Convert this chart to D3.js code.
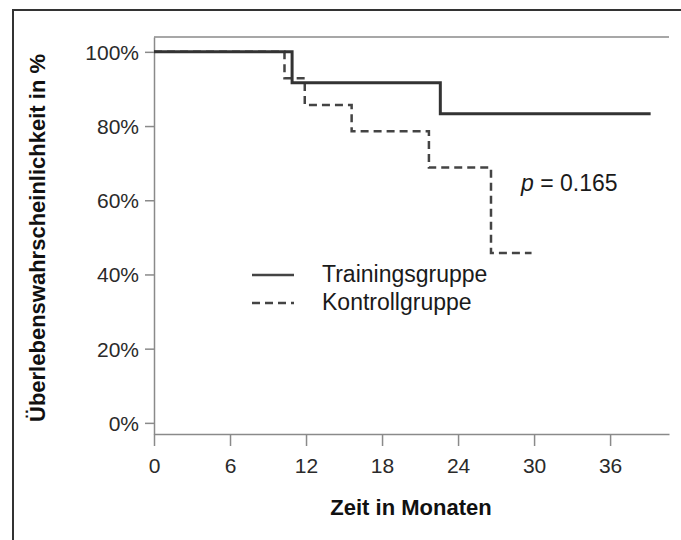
<!DOCTYPE html>
<html>
<head>
<meta charset="utf-8">
<script src="https://cdn.jsdelivr.net/npm/d3@7"></script>
<style>
  html, body { margin: 0; padding: 0; background: #fff; }
  svg { display: block; font-family: "Liberation Sans", Arial, Helvetica, sans-serif; }
</style>
</head>
<body>
<svg id="chart" width="681" height="540"></svg>
<script>
// Kaplan-Meier step data (time in months, survival in %)
const trainingTimes = [0, 10.9, 22.6, 39.2];
const trainingSurv  = [100, 91.7, 83.3, 83.3];
const controlTimes  = [0, 10.3, 11.9, 15.6, 21.7, 26.6, 29.8];
const controlSurv   = [100, 92.9, 85.7, 78.6, 68.8, 45.8, 45.8];

const xTicks = [0, 6, 12, 18, 24, 30, 36];
const yTicks = [0, 20, 40, 60, 80, 100];
const seriesNames = ["Trainingsgruppe", "Kontrollgruppe"];
const pValueLabel = "0.165";

const svg = d3.select("#chart");

const x = d3.scaleLinear().domain([0, 40.65]).range([154, 669]);
const y = d3.scaleLinear().domain([-3, 104]).range([434, 37]);

// outer frame
svg.append("path")
  .attr("d", "M13,540 L13,10 L681,10")
  .attr("fill", "none").attr("stroke", "#333").attr("stroke-width", 2);

// top border of plotting region
svg.append("line")
  .attr("x1", x.range()[0]).attr("x2", x.range()[1])
  .attr("y1", y.range()[1]).attr("y2", y.range()[1])
  .attr("stroke", "#8a8a8a").attr("stroke-width", 1.5);

// axes
const xAxis = svg.append("g")
  .attr("transform", `translate(0,${y.range()[0]})`)
  .call(d3.axisBottom(x).tickValues(xTicks).tickSize(12).tickSizeOuter(0).tickPadding(12));
const yAxis = svg.append("g")
  .attr("transform", `translate(${x.range()[0]},0)`)
  .call(d3.axisLeft(y).tickValues(yTicks).tickFormat(d => d + "%").tickSize(9).tickSizeOuter(0).tickPadding(6));

[xAxis, yAxis].forEach(g => {
  g.select(".domain").attr("stroke", "#8a8a8a").attr("stroke-width", 1.5);
  g.selectAll(".tick line").attr("stroke", "#8a8a8a").attr("stroke-width", 1.5);
  g.selectAll(".tick text").attr("fill", "#2a2a2a").style("font-size", "21px")
    .style("font-family", "'Liberation Sans', Arial, sans-serif");
});
yAxis.selectAll(".tick text").attr("dy", "0.35em");

// axis titles
svg.append("text")
  .attr("x", 411).attr("y", 515)
  .attr("text-anchor", "middle")
  .style("font-size", "22px").style("font-weight", "bold").attr("fill", "#111")
  .text("Zeit in Monaten");

svg.append("text")
  .attr("transform", "translate(45,238) rotate(-90)")
  .attr("text-anchor", "middle")
  .style("font-size", "22px").style("font-weight", "bold").attr("fill", "#111")
  .text("Überlebenswahrscheinlichkeit in %");

// survival curves
const line = d3.line()
  .x(d => x(d[0]))
  .y(d => y(d[1]))
  .curve(d3.curveStepAfter);

const trainingData = trainingTimes.map((t, i) => [t, trainingSurv[i]]);
const controlData  = controlTimes.map((t, i) => [t, controlSurv[i]]);

svg.append("path")
  .datum(controlData)
  .attr("d", line)
  .attr("fill", "none").attr("stroke", "#444").attr("stroke-width", 2.5)
  .attr("stroke-dasharray", "8,5");

svg.append("path")
  .datum(trainingData)
  .attr("d", line)
  .attr("fill", "none").attr("stroke", "#333").attr("stroke-width", 3);

// legend
const legend = svg.append("g");
const legendRows = [
  { name: seriesNames[0], dash: null, y: 275 },
  { name: seriesNames[1], dash: "8,5", y: 303 }
];
legendRows.forEach(r => {
  legend.append("line")
    .attr("x1", 252).attr("x2", 294).attr("y1", r.y).attr("y2", r.y)
    .attr("stroke", "#444").attr("stroke-width", 2.5)
    .attr("stroke-dasharray", r.dash);
  legend.append("text")
    .attr("x", 322).attr("y", r.y - 1).attr("dy", "0.35em")
    .style("font-size", "23px").attr("fill", "#1a1a1a")
    .text(r.name);
});

// p-value annotation
const pText = svg.append("text")
  .attr("x", 521).attr("y", 191)
  .style("font-size", "23px").attr("fill", "#1a1a1a");
pText.append("tspan").style("font-style", "italic").text("p");
pText.append("tspan").text(" = " + pValueLabel);
</script>
</body>
</html>
